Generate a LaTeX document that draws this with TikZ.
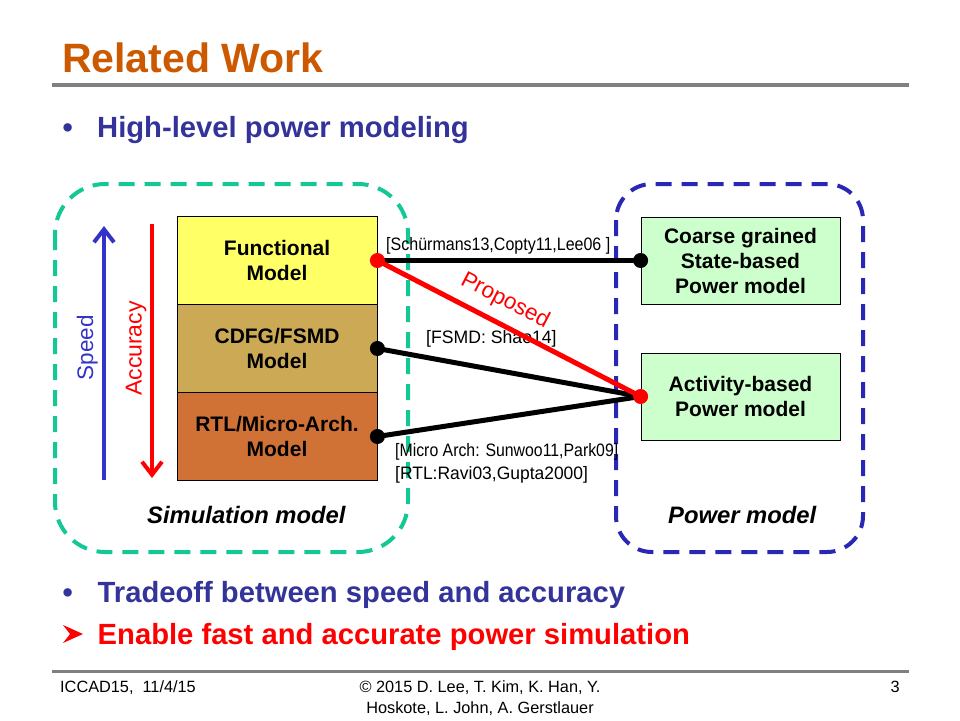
\documentclass[tikz,border=0pt]{standalone}
\usepackage{fontspec}
\setmainfont{Liberation Sans}
\usetikzlibrary{arrows.meta}
\definecolor{titleor}{RGB}{204,88,0}
\definecolor{bultblue}{RGB}{51,51,153}
\definecolor{rulegray}{RGB}{128,128,128}
\definecolor{simgreen}{RGB}{20,200,150}
\definecolor{pwrblue}{RGB}{40,40,180}
\definecolor{spdblue}{RGB}{51,51,200}
\definecolor{layyellow}{RGB}{255,255,102}
\definecolor{laytan}{RGB}{204,170,85}
\definecolor{layorange}{RGB}{208,114,54}
\definecolor{lgreen}{RGB}{204,255,204}
\definecolor{pured}{RGB}{255,0,0}
\newcommand{\labfont}[2]{\fontsize{#1}{20}\selectfont\addfontfeatures{FakeStretch=#2}}
\begin{document}
\begin{tikzpicture}[x=1pt,y=-1pt,
  txt/.style={inner sep=0pt, anchor=base west},
  layer/.style={draw=black, line width=0.8pt, minimum width=200pt, minimum height=88pt, inner sep=0pt, align=center, font=\fontsize{21}{25}\selectfont\bfseries},
  pbox/.style={draw=black, line width=0.8pt, fill=lgreen, minimum width=199pt, minimum height=87pt, inner sep=0pt, align=center, font=\fontsize{21}{25}\selectfont\bfseries},
  conn/.style={line width=5pt},
  grayrule/.style={draw=rulegray, line width=3.5pt},
  dashbox/.style={line width=4pt, dash pattern=on 16pt off 10pt},
  vaxis/.style={line width=4pt, -{Straight Barb[length=13pt,width=20pt]}},
  bullettxt/.style={txt, font=\fontsize{29.2}{34}\selectfont\bfseries},
  reflabel/.style={txt},
  captxt/.style={txt, font=\fontsize{23.8}{27}\selectfont\bfseries\itshape},
  foot/.style={inner sep=0pt, anchor=base, font=\fontsize{16.3}{20}\selectfont}
]
\useasboundingbox (0,0) rectangle (960,720);
\fill[white] (0,0) rectangle (960,720);

% title and rules
\node[txt, text=titleor, font=\fontsize{41}{48}\selectfont\bfseries] (title) at (62,72.7) {Related Work};
\coordinate (r1a) at (52,85); \coordinate (r1b) at (909,85);
\draw[grayrule] (r1a) -- (r1b);
\coordinate (r2a) at (52,671.5); \coordinate (r2b) at (909,671.5);
\draw[grayrule] (r2a) -- (r2b);

% bullets
\node[bullettxt, text=bultblue] (b1dot) at (62.5,137) {•};
\node[bullettxt, text=bultblue] (b1) at (97,137) {High-level power modeling};
\node[bullettxt, text=bultblue] (b2dot) at (62.5,602) {•};
\node[bullettxt, text=bultblue] (b2) at (97.5,602) {Tradeoff between speed and accuracy};
\fill[pured] (63,625) -- (83,634) -- (63,643) -- (70,634) -- cycle;
\node[bullettxt, text=pured] (b3) at (97.5,644) {Enable fast and accurate power simulation};

% dashed group boxes
\draw[dashbox, draw=simgreen, rounded corners=50pt] (55,184) rectangle (408,552);
\draw[dashbox, draw=pwrblue, rounded corners=36pt] (616,184) rectangle (863,552);

% layers
\node[layer, fill=layyellow] (fun) at (277,260.5) {Functional\\Model};
\node[layer, fill=laytan] (cdfg) at (277,348.5) {CDFG/FSMD\\Model};
\node[layer, fill=layorange] (rtl) at (277,436.5) {RTL/Micro-Arch.\\Model};

% power models
\node[pbox] (coarse) at (740.5,260.5) {Coarse grained\\State-based\\Power model};
\node[pbox] (act) at (740.5,396.5) {Activity-based\\Power model};

% speed / accuracy axes
\coordinate (spdB) at (104,480); \coordinate (spdT) at (104,226);
\draw[vaxis, draw=spdblue] (spdB) -- (spdT);
\node[inner sep=0pt, anchor=base, rotate=90, text=spdblue, font=\fontsize{22.5}{26}\selectfont] (spdtxt) at (93,347.5) {Speed};
\coordinate (accT) at (152,224); \coordinate (accB) at (152,478);
\draw[vaxis, draw=pured] (accT) -- (accB);
\node[inner sep=0pt, anchor=base, rotate=90, text=pured, font=\fontsize{23}{26}\selectfont] (acctxt) at (141.5,348.5) {Accuracy};

% reference labels
\node[reflabel, font=\labfont{18}{0.89}] (lab1) at (386,250) {[Schürmans13,Copty11,Lee06 ]};
\node[reflabel, font=\labfont{18}{0.98}] (lab2) at (426,343) {[FSMD: Shao14]};
\node[reflabel, font=\labfont{18}{0.88}] (lab3) at (395,456) {[Micro Arch: Sunwoo11,Park09]};
\node[reflabel, font=\labfont{18}{0.97}] (lab4) at (395,479) {[RTL:Ravi03,Gupta2000]};

% connectors
\draw[conn, black] (fun.east) -- (coarse.west);
\draw[conn, black] (cdfg.east) -- (act.west);
\draw[conn, black] (rtl.east) -- (act.west);
\draw[conn, pured] (fun.east) -- (act.west);
\node[inner sep=0pt, rotate=-27.4, text=pured, font=\fontsize{22.5}{26}\selectfont] (prop) at (505,301) {Proposed};
\fill[pured] (fun.east) circle (7.5pt);
\fill[black] (coarse.west) circle (7.5pt);
\fill[black] (cdfg.east) circle (7.5pt);
\fill[black] (rtl.east) circle (7.5pt);
\fill[pured] (act.west) circle (7.5pt);

% group captions
\node[captxt] (simcap) at (147,523) {Simulation model};
\node[captxt] (pwrcap) at (668,523) {Power model};

% footer
\node[foot, anchor=base west] (f1) at (60,692) {ICCAD15,\ \ 11/4/15};
\node[foot] (f2) at (480,692) {© 2015 D. Lee, T. Kim, K. Han, Y.};
\node[foot] (f3) at (480,713) {Hoskote, L. John, A. Gerstlauer};
\node[foot, anchor=base east] (f4) at (900,692) {3};
\end{tikzpicture}
\end{document}
